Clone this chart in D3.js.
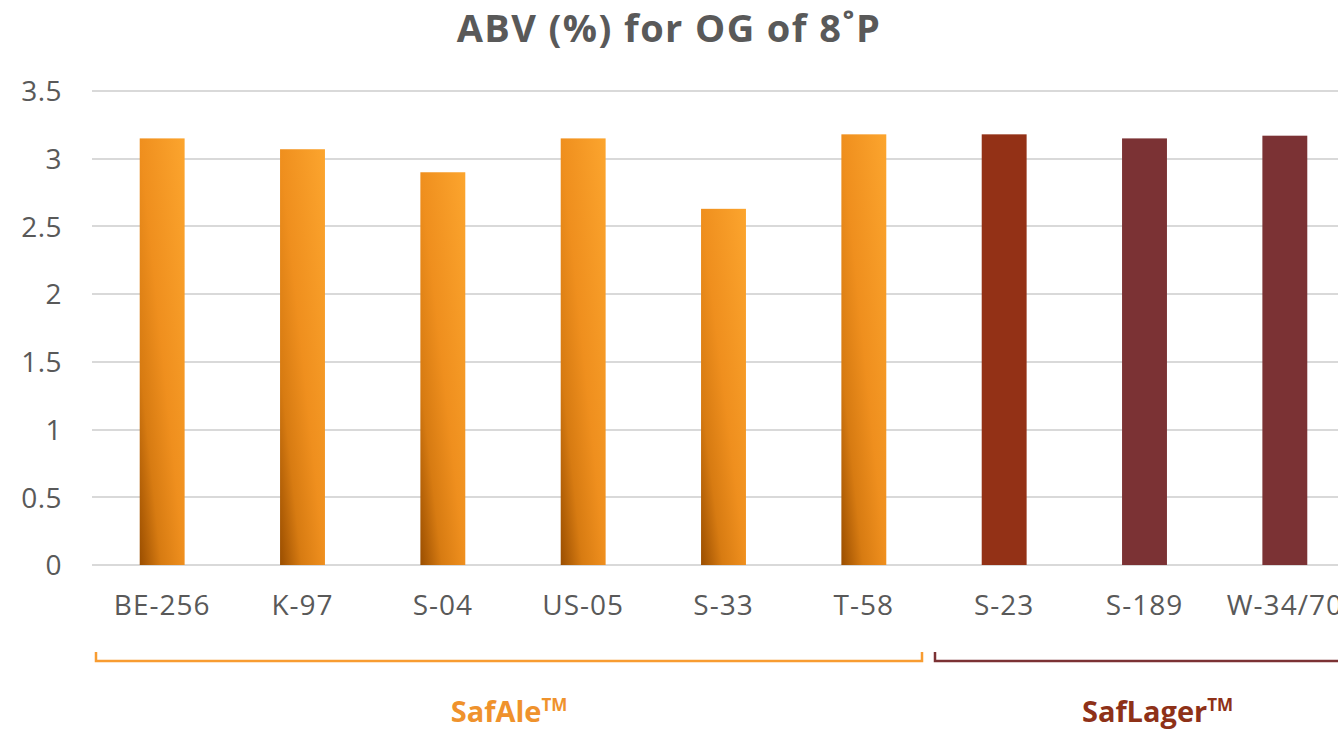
<!DOCTYPE html>
<html>
<head>
<meta charset="utf-8">
<script src="https://cdn.jsdelivr.net/npm/d3@7"></script>
<style>
  html, body { margin: 0; padding: 0; background: #ffffff; overflow: hidden; }
  svg { display: block; }
  text { font-family: "Open Sans", "DejaVu Sans", sans-serif; }
</style>
</head>
<body>
<svg id="chart" width="1338" height="729"></svg>
<script>
// Yeast strains and their alcohol by volume at an original gravity of 8 °P
const strains = ["BE-256", "K-97", "S-04", "US-05", "S-33", "T-58", "S-23", "S-189", "W-34/70"];
const abv = [3.15, 3.07, 2.90, 3.15, 2.63, 3.18, 3.18, 3.15, 3.17];
const family = ["SafAle", "SafAle", "SafAle", "SafAle", "SafAle", "SafAle", "SafLager", "SafLager", "SafLager"];
const groups = ["SafAle", "SafLager"];
const yTicks = [0, 0.5, 1, 1.5, 2, 2.5, 3, 3.5];
const yTickLabels = ["0", "0.5", "1", "1.5", "2", "2.5", "3", "3.5"];

const W = 1338, H = 729;
const svg = d3.select("#chart");
const TEXT = "#595959";

// plot area runs past the right edge of the page
const x = d3.scaleBand().domain(strains).range([92, 1355]).paddingInner(0.68).paddingOuter(0.34);
const y = d3.scaleLinear().domain([0, 3.5]).range([565, 91]);

// Bar fills
const defs = svg.append("defs");
const ale = defs.append("linearGradient").attr("id", "aleFill")
  .attr("x1", 0).attr("y1", 1).attr("x2", 1).attr("y2", 0);
[[0, "#9a4e00"], [0.24, "#d77b12"], [0.5, "#ef8f1e"], [1, "#fca52e"]]
  .forEach(([o, c]) => ale.append("stop").attr("offset", o).attr("stop-color", c));

const barFill = (d, i) => {
  if (family[i] === "SafAle") return "url(#aleFill)";
  return d === "S-23" ? "#933116" : "#7b3234";
};

// Title
svg.append("text")
  .attr("x", 669).attr("y", 42)
  .attr("text-anchor", "middle")
  .attr("font-size", 38).attr("font-weight", "bold")
  .attr("letter-spacing", 1.4)
  .attr("fill", TEXT)
  .text("ABV (%) for OG of 8˚P");

// Gridlines and y tick labels
const yAxis = svg.append("g")
  .call(d3.axisLeft(y).tickValues(yTicks).tickSize(0).tickPadding(0)
    .tickFormat((d, i) => yTickLabels[i]));
yAxis.select(".domain").remove();
yAxis.selectAll("text")
  .attr("x", 62).attr("dy", "0.35em")
  .attr("font-size", 28).attr("letter-spacing", 0.5).attr("fill", TEXT)
  .attr("font-family", "\"Open Sans\", sans-serif");

svg.append("g").selectAll("line").data(yTicks).join("line")
  .attr("x1", 92).attr("x2", W)
  .attr("y1", d => Math.round(y(d))).attr("y2", d => Math.round(y(d)))
  .attr("stroke", "#d9d9d9").attr("stroke-width", 2);

// Bars
svg.append("g").selectAll("rect").data(strains).join("rect")
  .attr("x", d => x(d))
  .attr("width", x.bandwidth())
  .attr("y", (d, i) => y(abv[i]))
  .attr("height", (d, i) => y(0) - y(abv[i]))
  .attr("fill", barFill);

// Category labels
const xAxis = svg.append("g").attr("transform", `translate(0,${y(0)})`)
  .call(d3.axisBottom(x).tickSize(0).tickPadding(0));
xAxis.select(".domain").remove();
xAxis.selectAll("text")
  .attr("y", 50).attr("dy", 0)
  .attr("font-size", 28).attr("letter-spacing", 1).attr("fill", TEXT)
  .attr("font-family", "\"Open Sans\", sans-serif");

// Group brackets and names
const groupStyle = {
  SafAle: { stroke: "#f89c31", text: "#ef922c", left: 4, right: -12, labelShift: -4 },
  SafLager: { stroke: "#7b3234", text: "#8e3118", left: 1, right: 26, labelShift: 13 }
};
const step = x.step();
groups.forEach(g => {
  const members = strains.filter((s, i) => family[i] === g);
  const st = groupStyle[g];
  const x0 = x(members[0]) + x.bandwidth() / 2 - step / 2 + st.left;
  const x1 = x(members[members.length - 1]) + x.bandwidth() / 2 + step / 2 + st.right;
  svg.append("path")
    .attr("d", `M${x0},652 V661 H${x1} V652`)
    .attr("fill", "none").attr("stroke", st.stroke).attr("stroke-width", 2.5);
  const cx = (x(members[0]) + x(members[members.length - 1]) + x.bandwidth()) / 2 + st.labelShift;
  const t = svg.append("text")
    .attr("x", cx).attr("y", 722)
    .attr("text-anchor", "middle")
    .attr("font-size", 29).attr("font-weight", "bold")
    .attr("fill", st.text);
  t.append("tspan").text(g);
  t.append("tspan").attr("dy", -11).attr("font-size", 17).text("TM");
});
</script>
</body>
</html>
